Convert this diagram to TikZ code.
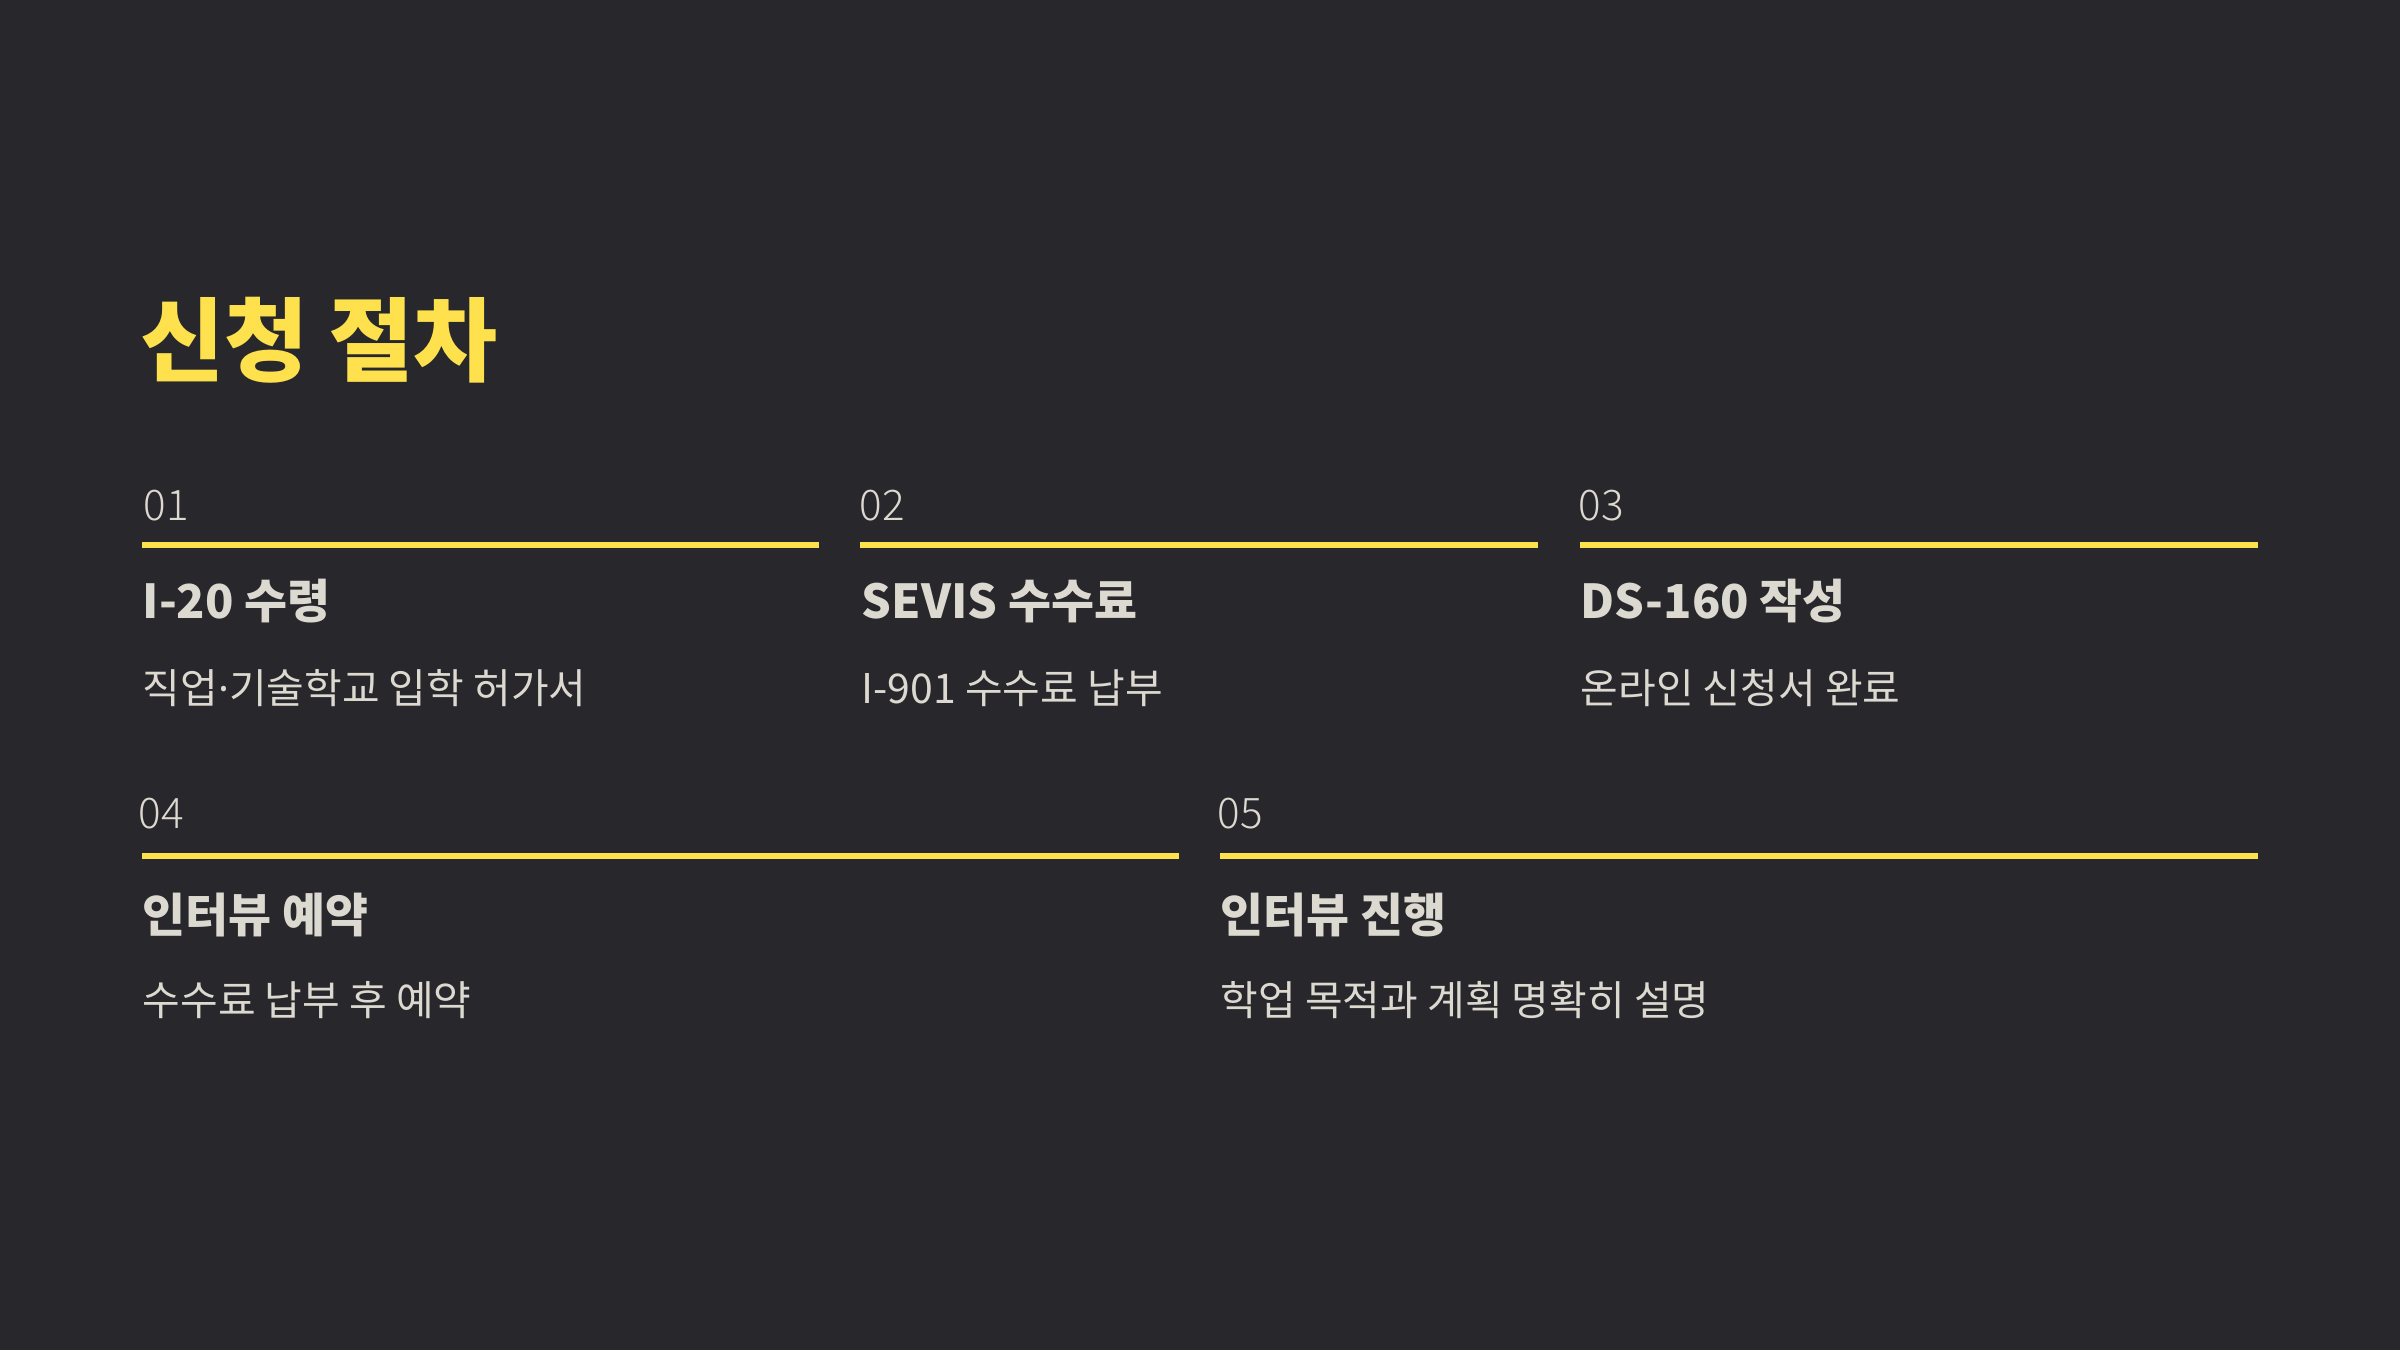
\documentclass[tikz,border=0pt]{standalone}
\usepackage{fontspec}
\setmainfont{Noto Sans CJK KR}
\newfontfamily\krfont{Noto Sans CJK KR}
\newfontfamily\krlight{Noto Sans CJK KR Light}
\newfontfamily\latinfont{Noto Sans}
\definecolor{bgcol}{HTML}{27272C}
\definecolor{accent}{HTML}{FFE14D}
\definecolor{txtcol}{HTML}{DCD9D0}
\begin{document}
\begin{tikzpicture}[x=1cm,y=1cm,
  titletext/.style={anchor=base west, inner sep=0pt, text=accent, font=\krfont\bfseries\fontsize{26}{30}\selectfont},
  stepnum/.style={anchor=base west, inner sep=0pt, text=txtcol, font=\krlight\fontsize{12}{14}\selectfont},
  stephead/.style={anchor=base west, inner sep=0pt, text=txtcol, font=\krfont\bfseries\fontsize{13.3}{16}\selectfont},
  stepsub/.style={anchor=base west, inner sep=0pt, text=txtcol, font=\krfont\fontsize{11.65}{14}\selectfont},
  steprule/.style={draw=accent, line width=0.06cm}
]
\fill[bgcol] (0,0) rectangle (24,13.5);
\useasboundingbox (0,0) rectangle (24,13.5);

\node[titletext] (title) at (1.40,9.76) {신청 절차};

% row 1
\node[stepnum] (n1) at (1.43,8.30) {01};
\node[stepnum] (n2) at (8.59,8.30) {02};
\node[stepnum] (n3) at (15.78,8.30) {03};
\draw[steprule] (1.42,8.05) -- (8.19,8.05);
\draw[steprule] (8.60,8.05) -- (15.38,8.05);
\draw[steprule] (15.80,8.05) -- (22.58,8.05);
\node[stephead] (h1) at (1.42,7.32) {I-20 수령};
\node[stephead] (h2) at (8.61,7.32) {SEVIS 수수료};
\node[stephead] (h3) at (15.80,7.32) {DS-160 작성};
\node[stepsub] (s1) at (1.42,6.47) {직업{\latinfont ·}기술학교 입학 허가서};
\node[stepsub] (s2) at (8.61,6.47) {I-901 수수료 납부};
\node[stepsub] (s3) at (15.80,6.47) {온라인 신청서 완료};

% row 2
\node[stepnum] (n4) at (1.38,5.22) {04};
\node[stepnum] (n5) at (12.17,5.22) {05};
\draw[steprule] (1.42,4.94) -- (11.79,4.94);
\draw[steprule] (12.20,4.94) -- (22.58,4.94);
\node[stephead] (h4) at (1.42,4.18) {인터뷰 예약};
\node[stephead] (h5) at (12.20,4.18) {인터뷰 진행};
\node[stepsub] (s4) at (1.42,3.35) {수수료 납부 후 예약};
\node[stepsub] (s5) at (12.20,3.35) {학업 목적과 계획 명확히 설명};
\end{tikzpicture}
\end{document}
